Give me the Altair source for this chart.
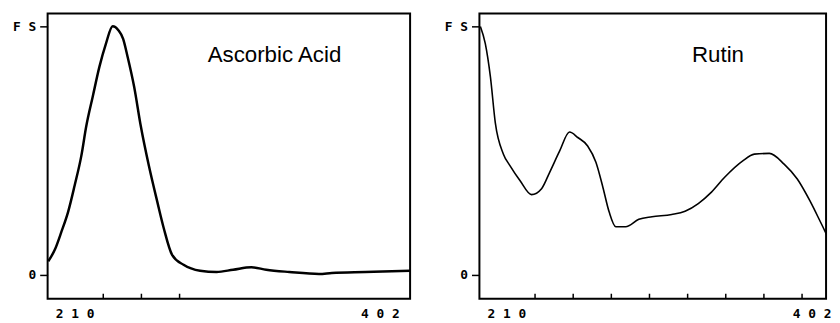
import altair as alt
import pandas as pd

# ---- data ----
asc_nm = [193.4, 197.5, 201.7, 205.9, 210.0, 214.2, 217.3, 221.4, 225.6, 229.7,
          233.9, 237.5, 240.5, 243.3, 247.4, 251.6, 256.7, 262.0, 266.1, 271.3,
          278.5, 288.9, 299.3, 309.7, 321.2, 330.5, 345.0, 363.7, 371.8, 392.8, 421.0]
asc_val = [0.055, 0.101, 0.174, 0.254, 0.360, 0.479, 0.598, 0.718, 0.838, 0.931,
           1.001, 0.985, 0.950, 0.878, 0.758, 0.599, 0.439, 0.294, 0.187, 0.081,
           0.041, 0.017, 0.012, 0.021, 0.031, 0.021, 0.012, 0.004, 0.008, 0.012, 0.017]

rut_nm = [193.6, 196.7, 199.9, 203.0, 208.1, 212.3, 218.5, 225.8, 232.1, 237.2,
          243.5, 249.7, 254.9, 261.1, 266.3, 270.4, 274.6, 278.8, 285.0, 293.3,
          301.6, 314.0, 322.4, 330.7, 339.0, 347.3, 358.7, 366.0, 375.4, 384.7,
          393.0, 401.3, 408.6, 414.8, 418.0]
rut_val = [1.000, 0.931, 0.798, 0.612, 0.486, 0.439, 0.380, 0.323, 0.347, 0.413,
           0.499, 0.575, 0.553, 0.519, 0.453, 0.360, 0.254, 0.194, 0.194, 0.224,
           0.234, 0.243, 0.256, 0.287, 0.333, 0.393, 0.459, 0.486, 0.489, 0.446,
           0.386, 0.294, 0.200, 0.121, 0.094]

ticks_left = [228, 252, 276]
ticks_right = [228, 252, 276, 300, 324, 348, 372, 396]
x_labels = [210, 402]
y_values = [0, 1]
y_texts = ["0", "F S"]
titles = ["Ascorbic Acid", "Rutin"]

Y_DOMAIN = [-0.0956, 1.052]
MONO = "DejaVu Sans Mono"


def panel(nm, val, ticks, title, xdom, width, sw, tx, ty):
    xs = alt.Scale(domain=xdom, nice=False, zero=False)
    ys = alt.Scale(domain=Y_DOMAIN, nice=False, zero=False)
    xaxis = alt.Axis(values=x_labels, ticks=False, domain=False, grid=False,
                     labelFont=MONO, labelFontSize=13, labelFontWeight="bold",
                     labelColor="black", labelPadding=9, title=None,
                     labelExpr="slice(datum.label,0,1)+' '+slice(datum.label,1,2)+' '+slice(datum.label,2,3)")
    yaxis = alt.Axis(values=y_values, domain=False, grid=False, tickColor="black",
                     tickSize=8, tickWidth=1.5, labelPadding=4, title=None,
                     labelFont=MONO, labelFontSize=13, labelFontWeight="bold",
                     labelColor="black",
                     labelExpr=f"datum.value == {y_values[1]} ? '{y_texts[1]}' : '{y_texts[0]}'")
    line = alt.Chart(pd.DataFrame({"nm": nm, "v": val})).mark_line(
        color="black", strokeWidth=sw, clip=True, interpolate="monotone"
    ).encode(
        x=alt.X("nm:Q", scale=xs, axis=xaxis),
        y=alt.Y("v:Q", scale=ys, axis=yaxis),
    )
    tk = alt.Chart(pd.DataFrame({"nm": ticks})).mark_rule(color="black", strokeWidth=1.5).encode(
        x=alt.X("nm:Q", scale=xs, axis=xaxis),
        y=alt.YDatum(Y_DOMAIN[0], scale=ys, axis=yaxis),
        y2=alt.Y2Datum(Y_DOMAIN[0] + 0.02),
    )
    txt = alt.Chart(pd.DataFrame({"label": [title]})).mark_text(
        font="Liberation Sans", fontSize=22.5, color="black", align="center", baseline="middle"
    ).encode(
        x=alt.XDatum(tx, scale=xs, axis=xaxis),
        y=alt.YDatum(ty, scale=ys, axis=yaxis),
        text="label:N",
    )
    return alt.layer(line, tk, txt).properties(width=width, height=288)


left = panel(asc_nm, asc_val, ticks_left, titles[0], [193, 421], 366, 2.5, 335.7, 0.884)
right = panel(rut_nm, rut_val, ticks_right, titles[1], [193, 411.1], 350, 1.6, 343.1, 0.884)

chart = alt.hconcat(left, right, spacing=32).properties(
    padding={"left": 3, "top": 3, "right": 0, "bottom": 0}
).configure_view(stroke="black", strokeWidth=2)

chart.save("out.html", embed_options={"renderer": "svg", "actions": False})
